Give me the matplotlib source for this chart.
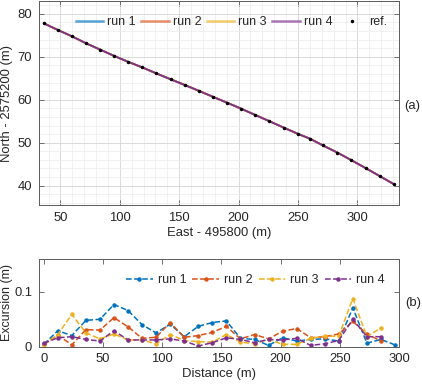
import matplotlib
matplotlib.use("Agg")
import matplotlib.pyplot as plt
from matplotlib.ticker import MultipleLocator

plt.rcParams['font.family'] = ['Liberation Sans', 'DejaVu Sans']
plt.rcParams['font.size'] = 9.4

# ---- data ----
ref_east = [36.3, 48.0, 59.8, 71.6, 83.4, 95.1, 106.9, 118.9, 130.7, 142.8, 154.5, 166.6, 178.4,
            190.4, 202.2, 214.0, 226.0, 237.8, 249.8, 260.2, 270.9, 283.2, 295.0, 307.0, 318.8, 330.5]
ref_north = [77.77, 76.23, 74.77, 73.15, 71.69, 70.23, 68.85, 67.54, 66.15, 64.77, 63.46, 62.08, 60.69,
             59.31, 57.92, 56.46, 55.0, 53.54, 52.08, 50.92, 49.38, 47.69, 45.92, 44.08, 42.23, 40.38]

run_names = ['run 1', 'run 2', 'run 3', 'run 4']
colors = ['#0072BD', '#D95319', '#EDB120', '#7E2F8E']

distance = [0, 11.9, 23.7, 35.6, 47.5, 59.3, 71.2, 83.0, 94.9, 106.8, 118.6, 130.5, 142.4, 154.2,
            166.1, 178.0, 189.8, 201.7, 213.6, 225.4, 237.3, 249.1, 261.0, 272.9, 284.7, 296.6]
run1 = [0.004, 0.029, 0.020, 0.048, 0.050, 0.077, 0.066, 0.040, 0.025, 0.041, 0.018, 0.037, 0.044,
        0.047, 0.015, 0.013, 0.002, 0.016, 0.010, 0.013, 0.014, 0.010, 0.071, 0.006, 0.013, 0.003]
run2 = [0.004, 0.021, 0.003, 0.031, 0.030, 0.053, 0.036, 0.015, 0.017, 0.044, 0.017, 0.020, 0.026,
        0.037, 0.014, 0.022, 0.014, 0.028, 0.033, 0.016, 0.018, 0.023, 0.046, 0.023, 0.010]
run3 = [0.003, 0.022, 0.059, 0.025, 0.014, 0.023, 0.012, 0.012, 0.005, 0.022, 0.011, 0.009, 0.008,
        0.022, 0.008, 0.005, 0.013, 0.004, 0.004, 0.015, 0.019, 0.019, 0.088, 0.018, 0.034]
run4 = [0.006, 0.016, 0.018, 0.013, 0.010, 0.029, 0.012, 0.012, 0.012, 0.014, 0.010, 0.001, 0.007,
        0.016, 0.013, 0.007, 0.013, 0.012, 0.015, 0.002, 0.005, 0.011, 0.050, 0.018, 0.018]
runs = [run1, run2, run3, run4]

txt = '#262626'
spine = '#5a5a5a'

fig = plt.figure(figsize=(4.22, 3.84), dpi=100)
W, H = 422, 384
ax1 = fig.add_axes([39 / W, 1 - 205 / H, 360 / W, 204 / H])
ax2 = fig.add_axes([39 / W, 1 - 346.5 / H, 360 / W, 87.2 / H])

# ---- top plot ----
for name, c in zip(run_names, colors):
    ax1.plot(ref_east, ref_north, '-', color=c, lw=1.3, label=name)
ax1.plot(ref_east, ref_north, 'k.', ms=3, label='ref.')
ax1.set_xlim(32, 335)
ax1.set_ylim(35.5, 83)
ax1.xaxis.set_major_locator(MultipleLocator(50))
ax1.xaxis.set_minor_locator(MultipleLocator(10))
ax1.yaxis.set_major_locator(MultipleLocator(10))
ax1.yaxis.set_minor_locator(MultipleLocator(2))
ax1.grid(which='major', color='#d5d5d5', lw=0.6)
ax1.grid(which='minor', color='#ececec', lw=0.5)
ax1.set_axisbelow(True)
ax1.set_xlabel('East - 495800 (m)', color=txt, labelpad=2)
ax1.set_ylabel('North - 2575200 (m)', color=txt, labelpad=3)
leg1 = ax1.legend(ncol=5, loc='center right', frameon=False, handlelength=2.2,
                  columnspacing=0.45, handletextpad=0.3, fontsize=9,
                  bbox_to_anchor=((387 - 39) / 360, 0.897),
                  borderaxespad=0, borderpad=0)
for t in leg1.get_texts():
    t.set_color(txt)
for h in leg1.legend_handles[:4]:
    h.set_alpha(0.65)
    h.set_linewidth(1.8)
ax1.text((412 - 39) / 360, 1 - (105.7 - 1) / 204, '(a)', transform=ax1.transAxes,
         ha='center', va='center', color=txt)

# ---- bottom plot ----
for name, c, r in zip(run_names, colors, runs):
    ax2.plot(distance[:len(r)], r, 'o--', color=c, lw=1.1, ms=2.2, mfc=c, label=name)
ax2.set_xlim(-4, 300)
ax2.set_ylim(0, 0.16)
ax2.xaxis.set_major_locator(MultipleLocator(50))
ax2.set_yticks([0, 0.1])
ax2.set_yticklabels(['0', '0.1'])
ax2.set_xlabel('Distance (m)', color=txt, labelpad=2)
ax2.set_ylabel('Excursion (m)', color=txt, labelpad=1, fontsize=9)
leg2 = ax2.legend(ncol=4, loc='center right', frameon=False, handlelength=2.1,
                  columnspacing=0.45, handletextpad=0.45, fontsize=9,
                  bbox_to_anchor=((385 - 39) / 360, 1 - (280 - 259.3) / 87.2),
                  borderaxespad=0, borderpad=0)
for t in leg2.get_texts():
    t.set_color(txt)
ax2.text((413 - 39) / 360, 1 - (303 - 259.3) / 87.2, '(b)', transform=ax2.transAxes,
         ha='center', va='center', color=txt)

for ax in (ax1, ax2):
    for s in ax.spines.values():
        s.set_color(spine)
        s.set_linewidth(0.7)
    ax.tick_params(which='both', direction='in', top=True, right=True, colors=spine,
                   labelcolor=txt, width=0.6)
    ax.tick_params(which='major', length=3.5, pad=5)
    ax.tick_params(which='minor', length=0)

fig.savefig('out.png', dpi=100)
